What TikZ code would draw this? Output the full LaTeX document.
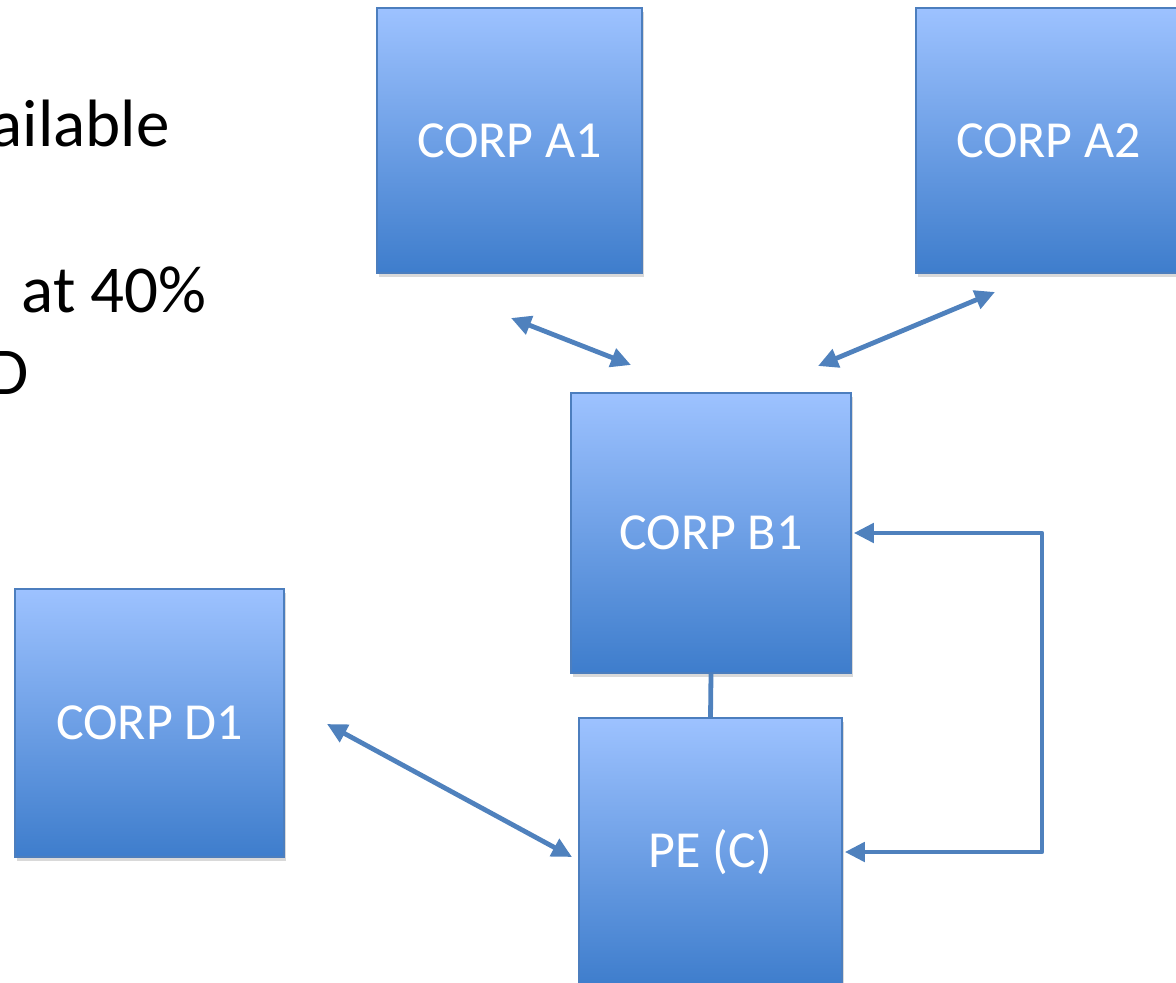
\documentclass[tikz,border=0pt]{standalone}
\usepackage{fontspec}
\setmainfont{Carlito}
\usetikzlibrary{arrows.meta,shadows}
\definecolor{boxtop}{RGB}{157,194,255}
\definecolor{boxbot}{RGB}{62,125,204}
\definecolor{boxline}{RGB}{76,126,190}
\definecolor{arr}{RGB}{79,129,189}
\tikzset{
  corp/.style={draw=boxline, line width=0.8pt, top color=boxtop, bottom color=boxbot,
    text=white, font=\fontsize{26}{31}\selectfont, inner sep=0pt,
    drop shadow={shadow xshift=1pt, shadow yshift=-2pt, opacity=0.25, fill=black!60}},
  tip/.tip={Triangle[length=10pt,width=9.5pt]},
  link/.style={draw=arr, line width=2.4pt, line join=round, tip-tip},
  bare/.style={draw=arr, line width=2.4pt},
  side/.style={font=\fontsize{33.5}{40}\selectfont, text=black, inner sep=0pt}
}
\begin{document}
\begin{tikzpicture}[x=0.5pt,y=-0.5pt]
\useasboundingbox (0,0) rectangle (1176,983);
\clip (0,0) rectangle (1176,983);
% left text (clipped at left edge)
\node[side, anchor=base east] (t1) at (170,147) {ailable};
\node[side, anchor=base east] (t2) at (207,313) {at 40\%};
\node[side, anchor=base east] (t3) at (29,395) {D};
% boxes
\node[corp, minimum width=132.5pt, minimum height=132.5pt] (A1) at (509.5,140.5) {CORP A1};
\node[corp, minimum width=132.5pt, minimum height=132.5pt] (A2) at (1048.5,140.5) {CORP A2};
\node[corp, minimum width=140pt, minimum height=140pt] (B1) at (711,533) {CORP B1};
\node[corp, minimum width=134.5pt, minimum height=134pt] (D1) at (149.5,723) {CORP D1};
\node[corp, minimum width=131.5pt, minimum height=134pt] (PE) at (710.5,852) {PE (C)};
% free arrow ends
\coordinate (a1s) at (511,318);
\coordinate (a1e) at (631,365);
\coordinate (a2s) at (995,292);
\coordinate (a2e) at (818,366);
\coordinate (d1s) at (327,724);
\coordinate (d1e) at (572,857);
\coordinate (loopx) at (1042,533);
% connectors
\draw[link] (a1s) -- (a1e);
\draw[link] (a2s) -- (a2e);
\draw[link] (d1s) -- (d1e);
\draw[bare] (B1.south) -- (PE.north);
\draw[link] ([xshift=1pt]B1.east) -- (loopx) |- ([xshift=1pt]PE.east);
\end{tikzpicture}
\end{document}
